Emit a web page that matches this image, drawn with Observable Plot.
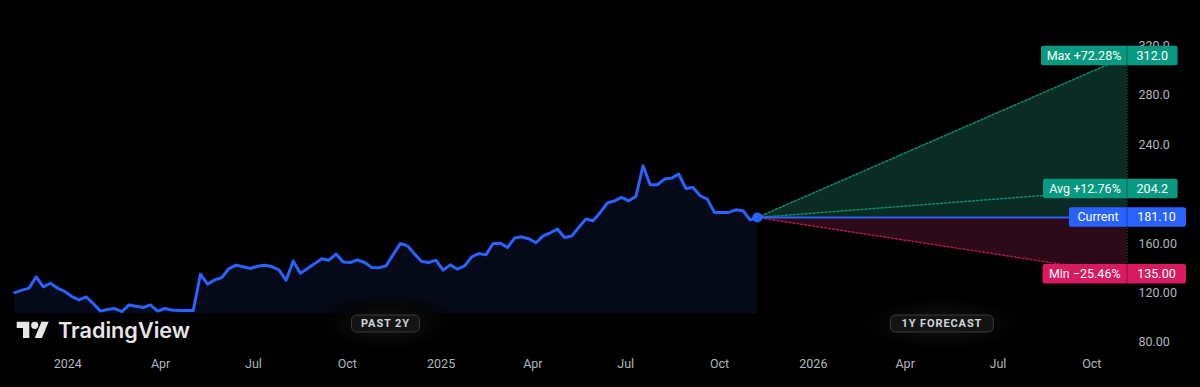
<!DOCTYPE html>
<html><head><meta charset="utf-8">
<script src="https://cdn.jsdelivr.net/npm/d3@7"></script>
<script src="https://cdn.jsdelivr.net/npm/@observablehq/plot@0.6"></script>
<style>
html,body{margin:0;padding:0;background:#000;}
#chart{position:relative;width:1200px;height:387px;overflow:hidden;background:#000}
</style></head><body><div id="chart"></div>
<script>
// ---------- data ----------
const domainStart = "2023-10-27";
const priceStart = "2023-11-10";
const priceEnd = "2025-11-07";
const forecastEnd = "2026-11-05";
const prices = [
  120.2, 122.2, 123.8, 133.0, 124.9, 127.8, 123.8, 121.1, 117.0, 114.3,
  116.7, 111.3, 105.2, 106.5, 107.3, 104.8, 110.2, 109.2, 108.1, 110.2,
  105.2, 107.3, 106.0, 105.7, 105.7, 105.7, 135.1, 127.0, 130.5, 132.4,
  139.7, 142.4, 141.1, 139.7, 141.6, 142.4, 141.3, 138.6, 130.2, 145.9,
  135.9, 139.7, 143.7, 147.6, 146.5, 151.4, 145.1, 144.6, 146.8, 144.6,
  140.5, 140.3, 141.9, 151.0, 160.0, 158.1, 151.4, 145.4, 144.6, 146.5,
  138.4, 142.7, 139.2, 141.9, 149.2, 151.9, 150.8, 160.0, 160.3, 156.7,
  164.4, 165.4, 163.8, 160.6, 166.2, 168.7, 171.7, 164.9, 166.0, 173.2,
  179.8, 178.4, 185.2, 192.8, 194.6, 197.3, 194.6, 198.1, 223.0, 207.6,
  207.6, 212.2, 213.0, 216.3, 204.6, 205.4, 198.7, 196.0, 185.2, 185.2,
  185.2, 187.3, 186.5, 179.2, 181.1
];
const areaBase = 103.0;
const currentPrice = 181.10;
const forecastNames = ["Max", "Avg", "Current", "Min"];
const forecastValues = [312.0, 204.2, 181.10, 135.00];
const forecastPct = ["+72.28%", "+12.76%", "", "\u221225.46%"];
const forecastValueLabels = ["312.0", "204.2", "181.10", "135.00"];
const yTicks = [320, 280, 240, 160, 120, 80];
const yTickLabels = ["320.0", "280.0", "240.0", "160.00", "120.00", "80.00"];
const xTickDates = ["2024-01-01","2024-04-01","2024-07-01","2024-10-01","2025-01-01","2025-04-01","2025-07-01","2025-10-01","2026-01-01","2026-04-01","2026-07-01","2026-10-01"];
const xTickLabels = ["2024","Apr","Jul","Oct","2025","Apr","Jul","Oct","2026","Apr","Jul","Oct"];
const periodLabels = ["PAST 2Y", "1Y FORECAST"];
const brand = "TradingView";

// ---------- derived tables ----------
const t0 = new Date(priceStart), t1 = new Date(priceEnd), tf = new Date(forecastEnd);
const priceData = prices.map((p, i) => ({date: new Date(+t0 + (t1 - t0) * i / (prices.length - 1)), price: p}));
const seg = v => [{date: t1, base: currentPrice, value: currentPrice}, {date: tf, base: currentPrice, value: v}];
const [maxV, avgV, curV, minV] = forecastValues;

const GREEN = "#089981", RED = "#d81b60", BLUE = "#2962ff";
const FONT = "Roboto, 'Noto Sans', sans-serif";

const plot = Plot.plot({
  width: 1200, height: 387,
  marginLeft: 0, marginRight: 73, marginTop: 45.6, marginBottom: 45.3,
  style: {background: "#000", color: "#b2b5be", fontFamily: FONT, overflow: "visible"},
  x: {type: "utc", domain: [new Date(domainStart), tf], axis: null},
  y: {domain: [80, 320], axis: null},
  marks: [
    Plot.areaY(priceData, {x: "date", y1: areaBase, y2: "price", fill: "#060a18"}),
    Plot.areaY(seg(maxV), {x: "date", y1: "base", y2: "value", fill: "#0b2c25"}),
    Plot.areaY(seg(minV), {x: "date", y1: "base", y2: "value", fill: "#2c0a18"}),
    Plot.ruleX([tf], {y1: minV, y2: maxV, stroke: "#3a4a46", strokeWidth: 1, strokeDasharray: "1,2"}),
    Plot.line(seg(maxV), {x: "date", y: "value", stroke: "#0b8a70", strokeWidth: 1.5, strokeDasharray: "2,2"}),
    Plot.line(seg(avgV), {x: "date", y: "value", stroke: "#0b8a70", strokeWidth: 1.5, strokeDasharray: "2,2"}),
    Plot.line(seg(minV), {x: "date", y: "value", stroke: "#b0174f", strokeWidth: 1.5, strokeDasharray: "2,2"}),
    Plot.line(seg(curV), {x: "date", y: "base", stroke: BLUE, strokeWidth: 2}),
    Plot.line(priceData, {x: "date", y: "price", stroke: BLUE, strokeWidth: 3, strokeLinejoin: "round", strokeLinecap: "round"}),
    Plot.dot([priceData[priceData.length - 1]], {x: "date", y: "price", r: 5, fill: BLUE}),
    Plot.text(yTicks, {y: d => d, text: (d, i) => yTickLabels[i], frameAnchor: "right", dx: 11, textAnchor: "start", fill: "#b2b5be", fontSize: 12.5}),
    Plot.text(xTickDates, {x: d => new Date(d), text: (d, i) => xTickLabels[i], frameAnchor: "bottom", dy: 25.5, fill: "#b2b5be", fontSize: 12.5,
      fontWeight: (d, i) => /^\d/.test(xTickLabels[i]) ? 600 : 400})
  ]
});
document.getElementById("chart").appendChild(plot);

const svg = d3.select(plot);
const xs = plot.scale("x"), ys = plot.scale("y");

// ---------- forecast labels ----------
const divX = xs.apply(tf);
const leftW = [86, 84, 58, 84.5];
const rightW = [50.6, 50.6, 59, 59];
const colors = [GREEN, GREEN, BLUE, RED];
const gl = svg.append("g").attr("font-family", FONT).attr("font-size", 12.5);
forecastNames.forEach((name, i) => {
  const cy = ys.apply(forecastValues[i]);
  const h = 19.5;
  const g = gl.append("g");
  g.append("rect").attr("x", divX - leftW[i]).attr("y", cy - h / 2).attr("width", leftW[i] + rightW[i]).attr("height", h)
    .attr("rx", 2).attr("fill", colors[i]);
  g.append("line").attr("x1", divX).attr("x2", divX).attr("y1", cy - h / 2).attr("y2", cy + h / 2)
    .attr("stroke", "rgba(0,0,0,0.35)").attr("stroke-width", 1);
  g.append("text").attr("x", divX - leftW[i] / 2).attr("y", cy).attr("dy", "0.35em").attr("text-anchor", "middle")
    .attr("fill", "#fff").text(forecastPct[i] ? `${name} ${forecastPct[i]}` : name);
  g.append("text").attr("x", divX + rightW[i] / 2).attr("y", cy).attr("dy", "0.35em").attr("text-anchor", "middle")
    .attr("fill", "#fff").text(forecastValueLabels[i]);
});

// ---------- period pills ----------
const defs = svg.append("defs");
const grad = defs.append("radialGradient").attr("id", "halo");
grad.append("stop").attr("offset", "0%").attr("stop-color", "#121212").attr("stop-opacity", 1);
grad.append("stop").attr("offset", "55%").attr("stop-color", "#070707").attr("stop-opacity", 1);
grad.append("stop").attr("offset", "100%").attr("stop-color", "#000").attr("stop-opacity", 0);
const pillCx = [(xs.apply(t0) + xs.apply(t1)) / 2, (xs.apply(t1) + divX) / 2];
const pillW = [68, 103];
const pillCy = 323.5;
periodLabels.forEach((lab, i) => {
  const g = svg.append("g");
  g.append("ellipse").attr("cx", pillCx[i]).attr("cy", pillCy).attr("rx", pillW[i] / 2 + 42).attr("ry", 30).attr("fill", "url(#halo)");
  g.append("rect").attr("x", pillCx[i] - pillW[i] / 2).attr("y", pillCy - 8.5).attr("width", pillW[i]).attr("height", 17)
    .attr("rx", 5).attr("fill", "#141414").attr("stroke", "#3a3a3a").attr("stroke-width", 1);
  g.append("text").attr("x", pillCx[i]).attr("y", pillCy).attr("dy", "0.36em").attr("text-anchor", "middle")
    .attr("fill", "#d1d4dc").attr("font-family", FONT).attr("font-weight", 700).attr("font-size", 11)
    .attr("letter-spacing", 0.9).text(lab);
});

// ---------- brand ----------
const logo = svg.append("g").attr("transform", "translate(16.7,318.1) scale(0.9)").attr("fill", "#e6e6e6");
logo.append("path").attr("d", "M14 22H7V11H0V4h14v18zM28 22h-8l7.5-18h8L28 22z");
logo.append("circle").attr("cx", 20).attr("cy", 8).attr("r", 4);
svg.append("text").attr("x", 58).attr("y", 330).attr("dy", "0.36em").attr("fill", "#e6e6e6")
  .attr("text-anchor", "start")
  .attr("font-family", "Inter, sans-serif").attr("font-weight", 600).attr("font-size", 21)
  .attr("textLength", 132).attr("lengthAdjust", "spacingAndGlyphs").text(brand);
</script></body></html>
